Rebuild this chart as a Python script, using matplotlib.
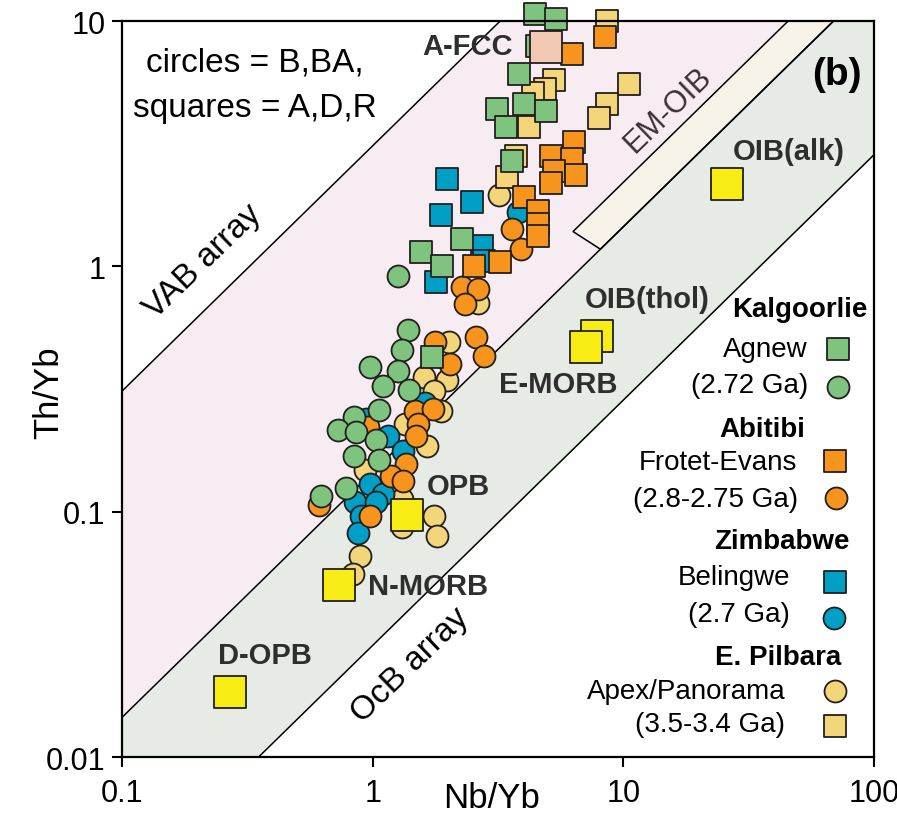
import numpy as np
import matplotlib
matplotlib.use('Agg')
import matplotlib.pyplot as plt

plt.rcParams['font.family'] = ['Liberation Sans', 'DejaVu Sans']

# Kalgoorlie - Agnew (squares = A,D,R ; circles = B,BA)
agnew_sq_nb = [4.44, 5.38, 4.52, 3.83, 3.13, 4.01, 4.91, 3.40, 3.59, 2.27, 1.56, 1.89, 1.72]
agnew_sq_th = [10.7, 10.2, 7.91, 6.08, 4.38, 4.59, 4.30, 3.70, 2.69, 1.29, 1.14, 1.00, 0.427]
agnew_ci_nb = [1.26, 1.38, 1.31, 0.98, 1.26, 1.10, 1.40, 1.06, 0.84, 0.73, 0.86, 1.03, 0.84, 1.06, 0.78, 0.62]
agnew_ci_th = [0.913, 0.550, 0.456, 0.389, 0.374, 0.325, 0.313, 0.260, 0.243, 0.215, 0.211, 0.196, 0.168, 0.162, 0.125, 0.116]

# Abitibi - Frotet-Evans
frotet_sq_nb = [6.24, 8.45, 5.14, 6.35, 6.24, 5.29, 6.47, 5.14, 4.01, 4.56, 4.56, 4.56, 3.22, 2.54]
frotet_sq_th = [7.34, 8.61, 2.82, 3.21, 2.74, 2.45, 2.36, 2.19, 1.92, 1.68, 1.49, 1.33, 1.04, 1.00]
frotet_ci_nb = [3.59, 3.90, 2.27, 2.63, 2.33, 2.58, 2.78, 1.77, 2.03, 1.47, 1.74, 1.52, 1.49, 1.36, 1.18, 1.32, 0.98, 0.611, 0.958]
frotet_ci_th = [1.42, 1.18, 0.823, 0.808, 0.702, 0.515, 0.431, 0.491, 0.400, 0.257, 0.262, 0.228, 0.203, 0.156, 0.140, 0.133, 0.0959, 0.106, 0.221]

# Zimbabwe - Belingwe
belingwe_sq_nb = [1.98, 2.49, 1.87, 2.73, 2.78, 1.79]
belingwe_sq_th = [2.27, 1.83, 1.62, 1.21, 1.05, 0.863]
belingwe_ci_nb = [3.80, 1.62, 0.94, 1.15, 1.32, 0.98, 1.10, 0.850, 1.03, 0.898, 0.874]
belingwe_ci_th = [1.66, 0.277, 0.238, 0.203, 0.177, 0.130, 0.118, 0.109, 0.110, 0.0959, 0.0818]

# E. Pilbara - Apex/Panorama
apex_ci_nb = [3.19, 2.63, 2.02, 1.98, 1.60, 1.76, 1.87, 1.35, 1.65, 0.932, 1.31, 1.76, 1.81, 1.31, 0.890, 0.835]
apex_ci_th = [1.95, 0.709, 0.491, 0.344, 0.354, 0.310, 0.257, 0.228, 0.185, 0.148, 0.1125, 0.0959, 0.0795, 0.0865, 0.0659, 0.0557]
apex_sq_nb = [8.60, 5.29, 4.87, 4.36, 4.20, 10.5, 8.60, 7.99, 3.73, 3.43]
apex_sq_th = [10.0, 5.75, 5.28, 5.09, 3.70, 5.54, 4.59, 4.02, 2.82, 2.31]

# reference compositions
ref_names = ['OIB(alk)', 'OIB(thol)', 'E-MORB', 'OPB', 'N-MORB', 'D-OPB']
ref_nb = [25.9, 7.85, 7.09, 1.37, 0.734, 0.270]
ref_th = [2.17, 0.520, 0.469, 0.0968, 0.0502, 0.0184]
afcc_nb = [4.91]
afcc_th = [7.83]

# Th/Nb ratios bounding the arrays
vab_hi = 3.1
ocb_hi = 0.145
ocb_lo = 0.0285
emoib_hi = 0.22
emoib_x0 = 6.3   # Nb/Yb where the EM-OIB box starts on its upper edge
emoib_x1 = 8.1   # ... and on its lower edge

green = '#7EC47E'
orange = '#F7941D'
blue = '#00A0C6'
pale = '#F3D67A'
yellow = '#F7EC14'
salmon = '#F4C9B4'
edge = '#231F20'

fig = plt.figure(figsize=(8.97, 8.2), dpi=100)
ax = fig.add_axes([122/897, 62/820, 752/897, 736/820])
ax.set_xscale('log')
ax.set_yscale('log')

xx = np.logspace(-1.5, 2.5, 60)
ax.fill_between(xx, ocb_hi*xx, vab_hi*xx, color='#F6ECF2', lw=0, zorder=0)
ax.fill_between(xx, ocb_lo*xx, ocb_hi*xx, color='#E6EBE6', lw=0, zorder=0)
top = 30
ax.fill([emoib_x0, emoib_x1, top/ocb_hi, top/emoib_hi],
        [emoib_hi*emoib_x0, ocb_hi*emoib_x1, top, top],
        facecolor='#F7F3E8', edgecolor='k', lw=1.1, zorder=1)
for r in (vab_hi, ocb_hi, ocb_lo):
    ax.plot(xx, r*xx, color='k', lw=1.1, zorder=1)

ms = 250
kw = dict(edgecolors=edge, linewidths=1.3, clip_on=False)
ax.scatter(apex_ci_nb, apex_ci_th, s=ms, marker='o', c=pale, zorder=3, **kw)
ax.scatter(belingwe_ci_nb, belingwe_ci_th, s=ms, marker='o', c=blue, zorder=3, **kw)
ax.scatter(frotet_ci_nb, frotet_ci_th, s=ms, marker='o', c=orange, zorder=3, **kw)
ax.scatter(agnew_ci_nb, agnew_ci_th, s=ms, marker='o', c=green, zorder=3, **kw)
ax.scatter(apex_sq_nb, apex_sq_th, s=ms, marker='s', c=pale, zorder=3, **kw)
ax.scatter(belingwe_sq_nb, belingwe_sq_th, s=ms, marker='s', c=blue, zorder=3, **kw)
ax.scatter(frotet_sq_nb, frotet_sq_th, s=ms, marker='s', c=orange, zorder=3, **kw)
ax.scatter(agnew_sq_nb, agnew_sq_th, s=ms, marker='s', c=green, zorder=3, **kw)
ax.scatter(afcc_nb, afcc_th, s=520, marker='s', c=salmon, zorder=4, **kw)
ax.scatter(ref_nb, ref_th, s=520, marker='s', c=yellow, zorder=4, **kw)

# labels for the reference compositions
lab = dict(fontsize=21, fontweight='bold', color='#2e2e2e', transform=ax.transAxes,
           ha='center', va='center', zorder=6)
ax.text(0.459, 0.966, 'A-FCC', **lab)
ax.text(0.886, 0.823, ref_names[0], **lab)
ax.text(0.699, 0.622, ref_names[1], **lab)
ax.text(0.580, 0.507, ref_names[2], **lab)
ax.text(0.447, 0.368, ref_names[3], **lab)
ax.text(0.327, 0.232, ref_names[4], **dict(lab, ha='left'))
ax.text(0.190, 0.139, ref_names[5], **lab)
ax.text(0.951, 0.928, '(b)', fontsize=28, fontweight='bold', color='k',
        transform=ax.transAxes, ha='center', va='center')

ax.text(0.177, 0.944, 'circles = B,BA,', fontsize=24, transform=ax.transAxes, ha='center', va='center')
ax.text(0.177, 0.883, 'squares = A,D,R', fontsize=24, transform=ax.transAxes, ha='center', va='center')
ax.text(0.108, 0.674, 'VAB array', fontsize=24, rotation=44, transform=ax.transAxes,
        ha='center', va='center', rotation_mode='anchor')
ax.text(0.383, 0.126, 'OcB array', fontsize=24, rotation=44, transform=ax.transAxes,
        ha='center', va='center', rotation_mode='anchor')
ax.text(0.726, 0.880, 'EM-OIB', fontsize=22, rotation=44, color='#3c2d38', transform=ax.transAxes,
        ha='center', va='center', rotation_mode='anchor')

# legend built by hand
legend_rows = [
    ('Kalgoorlie', 0.992, 0.609, True),
    ('Agnew', 0.911, 0.554, False),
    ('(2.72 Ga)', 0.912, 0.505, False),
    ('Abitibi', 0.908, 0.446, True),
    ('Frotet-Evans', 0.898, 0.401, False),
    ('(2.8-2.75 Ga)', 0.899, 0.351, False),
    ('Zimbabwe', 0.968, 0.293, True),
    ('Belingwe', 0.888, 0.245, False),
    ('(2.7 Ga)', 0.888, 0.194, False),
    ('E. Pilbara', 0.957, 0.136, True),
    ('Apex/Panorama', 0.882, 0.090, False),
    ('(3.5-3.4 Ga)', 0.882, 0.045, False),
]
for txt, x, y, bold in legend_rows:
    ax.text(x, y, txt, fontsize=20, fontweight='bold' if bold else 'normal',
            transform=ax.transAxes, ha='right', va='center', zorder=6)

legend_marks = [
    ('s', green, 0.952, 0.554), ('o', green, 0.952, 0.503),
    ('s', orange, 0.948, 0.402), ('o', orange, 0.949, 0.352),
    ('s', blue, 0.948, 0.238), ('o', blue, 0.947, 0.189),
    ('o', pale, 0.948, 0.090), ('s', pale, 0.948, 0.042),
]
for m, c, x, y in legend_marks:
    ax.scatter([x], [y], s=ms, marker=m, c=c, edgecolors=edge, linewidths=1.3,
               transform=ax.transAxes, zorder=6)

ax.set_xlim(0.1, 100)
ax.set_ylim(0.01, 10)
ax.set_xticks([0.1, 1, 10, 100], ['0.1', '1', '10', '100'])
ax.set_yticks([0.01, 0.1, 1, 10], ['0.01', '0.1', '1', '10'])
ax.minorticks_off()
ax.tick_params(length=7, width=1.5, labelsize=22, pad=5, direction='out')
ax.tick_params(axis='x', pad=8)
for sp in ax.spines.values():
    sp.set_linewidth(1.6)
    sp.set_zorder(7)

ax.set_xlabel('Nb/Yb', fontsize=25)
ax.xaxis.set_label_coords(0.491, -0.0557)
ax.xaxis.label.set_va('center')
ax.set_ylabel('Th/Yb', fontsize=25)
ax.yaxis.set_label_coords(-0.098, 0.496)
ax.yaxis.label.set_va('center')

fig.savefig('out.png', dpi=100)
